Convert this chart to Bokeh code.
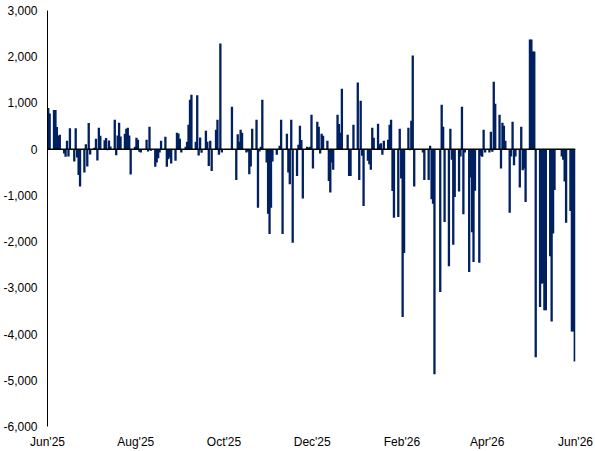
import pandas as pd
from bokeh.plotting import figure
from bokeh.models import ColumnDataSource, FixedTicker, Span, NumeralTickFormatter
from bokeh.embed import file_html
from bokeh.resources import INLINE

# Daily flows (business days), by month
jun25 = [890, 770, 850, 850, 480, 290, 310, -94, -166, 180, -160, 455,
         -267, 455, -180, -557, -810, -506]
jul25 = [108, -376, 564, -116, 29, 224, -246, 463, 289, 195, 239, -22, 188, 60,
         636, -130, 296, 571, 275, 332, 441, 463, 296]
aug25 = [-550, 51, 246, 202, -58, -72, 0, 202, -50, 484, -36, -383, -289, -195,
         -72, 181, 267, -383, -217, -181, -311]
sep25 = [-253, 354, 340, 224, -72, 50, 159, 528, 1070, 1178, 159, 1164, -137,
         253, -80, 398, 159, -362, 181, -470, 419, 636]
oct25 = [-123, 2286, -72, 0, 0, 0, 0, 918, -665, 325, 159, 419, 354, -72, -50,
         -542, -376, 441, 636, -1266, -50, 51, 1070]
nov25 = [-289, -1396, -1838, -1266, -268, -123, -20, 72, 636, -1838, 333, -506,
         -759, 636, -2027, -578, 94, 506, 200, -1070]
dec25 = [51, 30, 51, 745, -419, 593, 484, -94, 333, 289, 181, -687, -940, -289,
         -448, 745, 542, 354, 1309, 0, 311, -578, -578]
jan26 = [0, 528, 1440, -665, 1049, -145, -1230, -253, -325, -448, 463, 246, 550,
         108, 130, -123, 181, 202, 528, 636, -904, -1483]
feb26 = [-1468, 441, -637, -3632, -2244, 463, -22, 615, 2025, -810, 0, 0, 0, -72,
         -665, -665, 72, -1085, -1180, -4870]
mar26 = [0, -3090, 962, 485, -1577, -2532, 441, -231, -2070, -1034, -918, -159,
         918, -1410, -72, -2656, -615, -1800, -2440, -900, -2460, -145]
apr26 = [-166, 419, -72, -72, 376, -58, 1461, 984, 745, -419, 571, 506, 181,
         -1374, -159, 593, -347, -159, -832, 485, -455, -419]
may26 = [-1143, 2372, 2372, 2112, 2112, -4500, -3415, -2910, -2900, -3487, -3487,
         -2316, -3727, -1823, -882, 0, 0, -159, -231, -701, -1591]
jun26 = [-1338, -3943, -3943, -4594]

tick_dates = ["2025-06-05", "2025-08-05", "2025-10-05", "2025-12-05",
              "2026-02-05", "2026-04-05", "2026-06-05"]
tick_labels = ["Jun'25", "Aug'25", "Oct'25", "Dec'25", "Feb'26", "Apr'26", "Jun'26"]
y_ticks = [-6000, -5000, -4000, -3000, -2000, -1000, 0, 1000, 2000, 3000]

values = jun25 + jul25 + aug25 + sep25 + oct25 + nov25 + dec25 + jan26 + feb26 + mar26 + apr26 + may26 + jun26
start = pd.Timestamp("2025-06-05")
dates = pd.bdate_range("2025-06-05", periods=len(values))
xs = [(d - start).days + 0.5 for d in dates]

src = ColumnDataSource(dict(x=xs, v=values))

p = figure(width=595, height=451, output_backend="svg", toolbar_location=None,
           x_range=(0, 365), y_range=(-6000, 3000),
           min_border_left=44, min_border_right=20, min_border_top=10, min_border_bottom=0)
p.vbar(x="x", top="v", bottom=0, width=1.6, source=src, fill_color="#002060", line_color=None)
p.add_layout(Span(location=0, dimension="width", line_color="black", line_width=1.5))

p.outline_line_color = None
p.xgrid.visible = False
p.ygrid.visible = False
p.background_fill_color = "white"
p.border_fill_color = "white"

tick_pos = [(pd.Timestamp(t) - start).days for t in tick_dates]
xa = p.xaxis[0]
xa.ticker = FixedTicker(ticks=tick_pos)
xa.major_label_overrides = {tp: lab for tp, lab in zip(tick_pos, tick_labels)}
xa.axis_line_color = None
xa.major_tick_line_color = None
xa.minor_tick_line_color = None
xa.major_tick_out = 0
xa.major_tick_in = 0
xa.major_label_standoff = 8
xa.major_label_text_font = "Liberation Sans"
xa.major_label_text_font_size = "12px"
xa.major_label_text_color = "#000000"

ya = p.yaxis[0]
ya.ticker = FixedTicker(ticks=y_ticks)
ya.formatter = NumeralTickFormatter(format="0,0")
ya.axis_line_color = "black"
ya.axis_line_width = 1
ya.major_tick_line_color = None
ya.minor_tick_line_color = None
ya.major_tick_out = 0
ya.major_tick_in = 0
ya.major_label_standoff = 10
ya.major_label_text_font = "Liberation Sans"
ya.major_label_text_font_size = "12px"
ya.major_label_text_color = "#000000"

open("out.html", "w").write(file_html(p, INLINE))
